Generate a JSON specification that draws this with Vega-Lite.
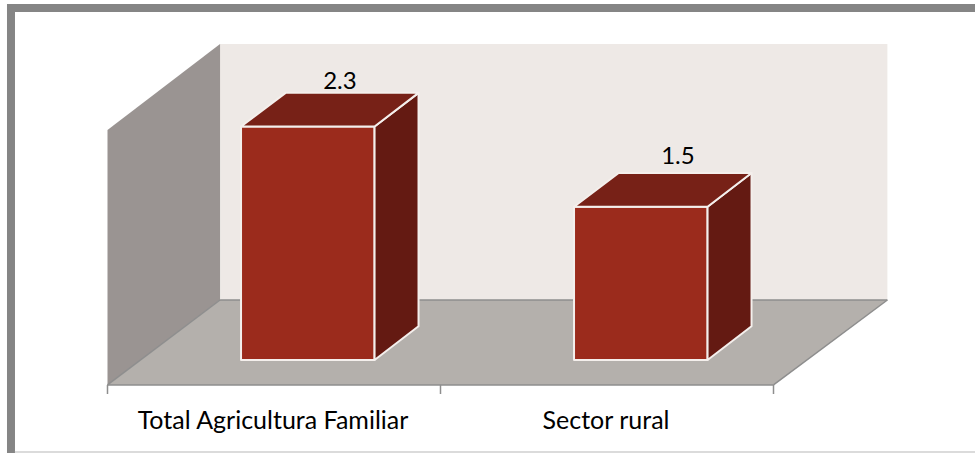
{
  "$schema": "https://vega.github.io/schema/vega-lite/v6.json",
  "width": 975,
  "height": 453,
  "autosize": {"type": "fit", "contains": "padding"},
  "padding": 0,
  "background": "#ffffff",
  "view": {"stroke": null},
  "datasets": {
    "room": [
      {"face": "back", "u": 0.338, "top": 3.113, "bottom": 0.591},
      {"face": "back", "u": 2.342, "top": 3.113, "bottom": 0.591},
      {"face": "left", "u": 0.0, "top": 2.266, "bottom": -0.246},
      {"face": "left", "u": 0.338, "top": 3.113, "bottom": 0.591},
      {"face": "floor", "u": 0.0, "top": -0.246, "bottom": -0.246},
      {"face": "floor", "u": 0.338, "top": 0.591, "bottom": -0.246},
      {"face": "floor", "u": 2.0, "top": 0.591, "bottom": -0.246},
      {"face": "floor", "u": 2.342, "top": 0.591, "bottom": 0.591}
    ],
    "bars": [
      {"face": "front1", "u": 0.401, "top": 2.3, "bottom": 0},
      {"face": "front1", "u": 0.802, "top": 2.3, "bottom": 0},
      {"face": "side1", "u": 0.802, "top": 2.3, "bottom": 0},
      {"face": "side1", "u": 0.934, "top": 2.632, "bottom": 0.332},
      {"face": "top1", "u": 0.401, "top": 2.3, "bottom": 2.3},
      {"face": "top1", "u": 0.535, "top": 2.632, "bottom": 2.3},
      {"face": "top1", "u": 0.802, "top": 2.632, "bottom": 2.3},
      {"face": "top1", "u": 0.934, "top": 2.632, "bottom": 2.632},
      {"face": "front2", "u": 1.401, "top": 1.51, "bottom": 0},
      {"face": "front2", "u": 1.802, "top": 1.51, "bottom": 0},
      {"face": "side2", "u": 1.802, "top": 1.51, "bottom": 0},
      {"face": "side2", "u": 1.934, "top": 1.842, "bottom": 0.332},
      {"face": "top2", "u": 1.401, "top": 1.51, "bottom": 1.51},
      {"face": "top2", "u": 1.535, "top": 1.842, "bottom": 1.51},
      {"face": "top2", "u": 1.802, "top": 1.842, "bottom": 1.51},
      {"face": "top2", "u": 1.934, "top": 1.842, "bottom": 1.842}
    ],
    "axisLines": [
      {"u": 0, "u2": 2, "v": -0.246, "v2": -0.246},
      {"u": 0, "u2": 0, "v": -0.246, "v2": -0.335},
      {"u": 1, "u2": 1, "v": -0.246, "v2": -0.335},
      {"u": 2, "u2": 2, "v": -0.246, "v2": -0.335},
      {"u": 0.338, "u2": 2.342, "v": 0.591, "v2": 0.591},
      {"u": 2.342, "u2": 2, "v": 0.591, "v2": -0.246},
      {"u": 0, "u2": 0.338, "v": -0.246, "v2": 0.591}
    ],
    "frame": [
      {"u": -0.2898, "u2": -0.2898, "v": 3.507, "v2": -0.9163},
      {"u": -0.3018, "u2": 2.6051, "v": 3.468, "v2": 3.468}
    ],
    "edge": [
      {"u": -0.278, "u2": 2.6051, "v": -0.907, "v2": -0.907}
    ],
    "labels": [
      {"u": 0.497, "v": -0.6, "label": "Total Agricultura Familiar"},
      {"u": 1.497, "v": -0.6, "label": "Sector rural"}
    ],
    "values": [
      {"u": 0.698, "v": 2.739, "value": "2.3"},
      {"u": 1.713, "v": 2.0, "value": "1.5"}
    ]
  },
  "layer": [
    {
      "data": {"name": "room"},
      "mark": {"type": "area", "orient": "vertical", "line": false},
      "encoding": {
        "x": {"field": "u", "type": "quantitative", "scale": {"domain": [-0.3228, 2.6051], "nice": false, "zero": false}, "axis": null},
        "y": {"field": "top", "type": "quantitative", "scale": {"domain": [-0.9163, 3.5468], "nice": false, "zero": false}, "axis": null},
        "y2": {"field": "bottom"},
        "detail": {"field": "face"},
        "color": {"field": "face", "type": "nominal", "legend": null, "scale": {"domain": ["back", "left", "floor"], "range": ["#EEE9E6", "#9A9492", "#B4B0AC"]}}
      }
    },
    {
      "data": {"name": "axisLines"},
      "mark": {"type": "rule", "color": "#8E8E8E", "strokeWidth": 1.5},
      "encoding": {
        "x": {"field": "u", "type": "quantitative", "axis": null},
        "x2": {"field": "u2"},
        "y": {"field": "v", "type": "quantitative", "axis": null},
        "y2": {"field": "v2"}
      }
    },
    {
      "data": {"name": "bars"},
      "mark": {"type": "area", "orient": "vertical", "stroke": "#F4EFEC", "strokeWidth": 2, "strokeJoin": "round"},
      "encoding": {
        "x": {"field": "u", "type": "quantitative", "axis": null},
        "y": {"field": "top", "type": "quantitative", "axis": null},
        "y2": {"field": "bottom"},
        "detail": {"field": "face"},
        "color": {"field": "face", "type": "nominal", "legend": null, "scale": {"domain": ["front1", "side1", "top1", "front2", "side2", "top2"], "range": ["#9B2B1C", "#641A12", "#772117", "#9B2B1C", "#641A12", "#772117"]}}
      }
    },
    {
      "data": {"name": "frame"},
      "mark": {"type": "rule", "color": "#858585", "strokeWidth": 8, "clip": true},
      "encoding": {
        "x": {"field": "u", "type": "quantitative", "axis": null},
        "x2": {"field": "u2"},
        "y": {"field": "v", "type": "quantitative", "axis": null},
        "y2": {"field": "v2"}
      }
    },
    {
      "data": {"name": "edge"},
      "mark": {"type": "rule", "color": "#CFCFCF", "strokeWidth": 1.5, "clip": true},
      "encoding": {
        "x": {"field": "u", "type": "quantitative", "axis": null},
        "x2": {"field": "u2"},
        "y": {"field": "v", "type": "quantitative", "axis": null},
        "y2": {"field": "v2"}
      }
    },
    {
      "data": {"name": "labels"},
      "mark": {"type": "text", "font": "Lato", "fontSize": 25, "color": "#000000", "align": "center", "baseline": "middle"},
      "encoding": {
        "x": {"field": "u", "type": "quantitative", "axis": null},
        "y": {"field": "v", "type": "quantitative", "axis": null},
        "text": {"field": "label"}
      }
    },
    {
      "data": {"name": "values"},
      "mark": {"type": "text", "font": "Lato", "fontSize": 24, "color": "#000000", "align": "center", "baseline": "middle"},
      "encoding": {
        "x": {"field": "u", "type": "quantitative", "axis": null},
        "y": {"field": "v", "type": "quantitative", "axis": null},
        "text": {"field": "value"}
      }
    }
  ],
  "resolve": {"scale": {"color": "independent"}}
}
